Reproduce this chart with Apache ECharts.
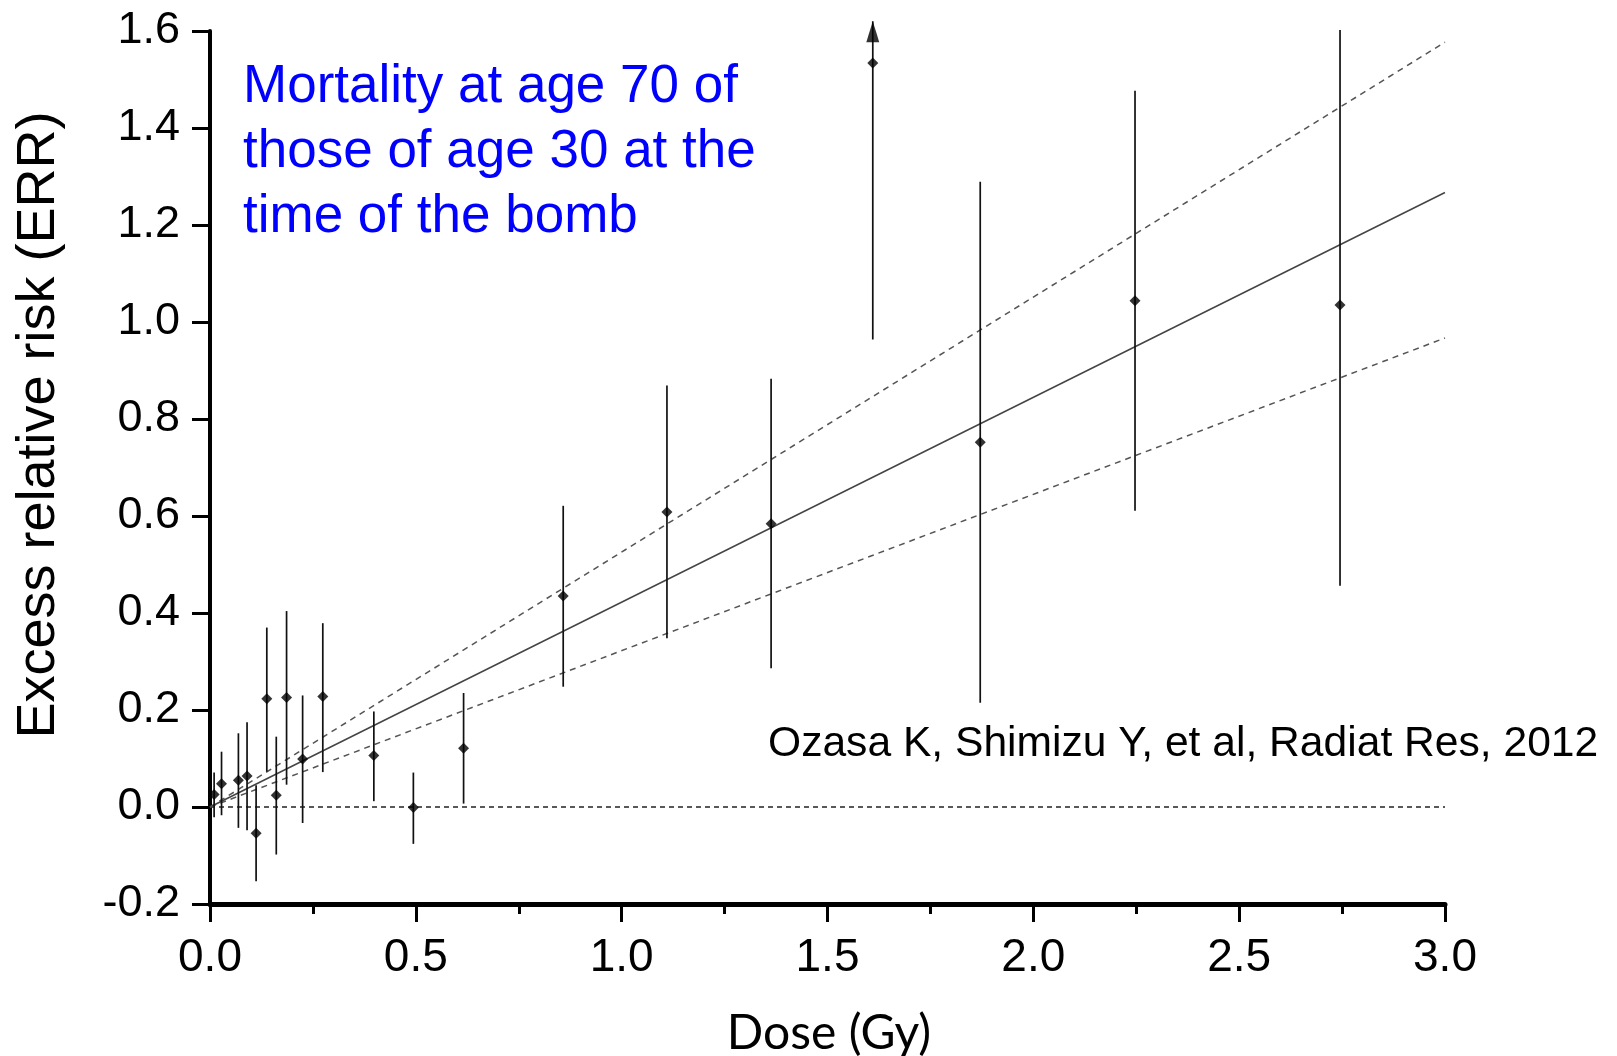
<!DOCTYPE html>
<html>
<head>
<meta charset="utf-8">
<script src="https://cdn.jsdelivr.net/npm/echarts@6/dist/echarts.min.js"></script>
<style>
html,body{margin:0;padding:0;background:#fff;}
#chart{width:1617px;height:1056px;}
</style>
</head>
<body>
<div id="chart"></div>
<script>
// ---- Data ----
const dose  = [0.010, 0.028, 0.069, 0.090, 0.112, 0.138, 0.161, 0.186, 0.225, 0.274, 0.398, 0.494, 0.616, 0.858, 1.110, 1.363, 1.610, 1.871, 2.247, 2.745];
const err   = [0.026, 0.048, 0.055, 0.064, -0.054, 0.223, 0.024, 0.226, 0.099, 0.228, 0.106, -0.001, 0.121, 0.435, 0.608, 0.584, 1.534, 0.752, 1.044, 1.035];
const lower = [-0.021, -0.017, -0.043, -0.048, -0.153, 0.073, -0.098, 0.046, -0.033, 0.072, 0.012, -0.076, 0.007, 0.248, 0.348, 0.286, 0.964, 0.215, 0.611, 0.456];
const upper = [0.071, 0.114, 0.152, 0.175, 0.045, 0.370, 0.145, 0.404, 0.230, 0.379, 0.197, 0.071, 0.235, 0.621, 0.869, 0.883, 1.620, 1.289, 1.477, 1.602];
const arrowIdx = [16];               // upper bound beyond the axis (drawn as arrow)
const fitDose  = [0, 3.0];
const fitMid   = [0, 1.267];
const fitUpper = [0, 1.577];
const fitLower = [0, 0.967];
const zeroDose = [0, 3.0];
const zeroErr  = [0, 0];
const xTicks = {min: 0, max: 3.0, step: 0.5};
const yTicks = {min: -0.2, max: 1.6, step: 0.2};
const title = ['Mortality at age 70 of', 'those of age 30 at the', 'time of the bomb'];
const citation = 'Ozasa K, Shimizu Y, et al, Radiat Res, 2012';
const xName = 'Dose (Gy)';
const yName = 'Excess relative risk (ERR)';

// ---- Build ----
const pts = dose.map((d, i) => [d, err[i]]);
const bars = dose.map((d, i) => [d, lower[i], upper[i]]);
const arrows = arrowIdx.map(i => [dose[i], upper[i]]);
const zip = (a, b) => a.map((v, i) => [v, b[i]]);

const chart = echarts.init(document.getElementById('chart'), null, {renderer: 'canvas'});
const FONT = '"Liberation Sans", Arial, sans-serif';

chart.setOption({
  animation: false,
  backgroundColor: '#fff',
  grid: {left: 210, right: 172, top: 31, bottom: 152, containLabel: false},
  xAxis: {
    type: 'value', min: xTicks.min, max: xTicks.max, interval: xTicks.step,
    axisLine: {show: true, onZero: false, lineStyle: {color: '#000', width: 5}},
    axisTick: {show: true, inside: false, length: 18, lineStyle: {color: '#000', width: 3}},
    minorTick: {show: true, splitNumber: 2, length: 10, lineStyle: {color: '#000', width: 3}},
    splitLine: {show: false},
    axisLabel: {fontFamily: FONT, fontSize: 46, color: '#000', margin: 31,
      formatter: v => v.toFixed(1)}
  },
  yAxis: {
    type: 'value', min: yTicks.min, max: yTicks.max, interval: yTicks.step,
    axisLine: {show: true, onZero: false, lineStyle: {color: '#000', width: 4}},
    axisTick: {show: true, inside: false, length: 18, lineStyle: {color: '#000', width: 3}},
    splitLine: {show: false},
    axisLabel: {fontFamily: FONT, fontSize: 45, color: '#000', margin: 30,
      formatter: v => v.toFixed(1)}
  },
  series: [
    {type: 'line', data: zip(zeroDose, zeroErr), symbol: 'none', silent: true,
     lineStyle: {color: '#222', width: 1.4, type: [5, 4]}, z: 1},
    {type: 'line', data: zip(fitDose, fitUpper), symbol: 'none', silent: true,
     lineStyle: {color: '#555', width: 1.5, type: [6, 5]}, z: 1},
    {type: 'line', data: zip(fitDose, fitLower), symbol: 'none', silent: true,
     lineStyle: {color: '#555', width: 1.5, type: [6, 5]}, z: 1},
    {type: 'line', data: zip(fitDose, fitMid), symbol: 'none', silent: true,
     lineStyle: {color: '#444', width: 1.5}, z: 1},
    {type: 'custom', data: bars, clip: false, z: 2,
     renderItem: (params, api) => {
       const a = api.coord([api.value(0), api.value(1)]);
       const b = api.coord([api.value(0), api.value(2)]);
       return {type: 'line', shape: {x1: a[0], y1: a[1], x2: b[0], y2: b[1]},
               style: {stroke: '#111', lineWidth: 1.7}};
     }},
    {type: 'scatter', data: pts, symbol: 'diamond', symbolSize: [11, 11], clip: false, z: 3,
     itemStyle: {color: '#000'}},
    {type: 'scatter', data: arrows, symbol: 'triangle', symbolSize: [13, 21],
     symbolOffset: [0, '50%'], clip: false, z: 3, itemStyle: {color: '#000'}}
  ],
  graphic: [
    {type: 'text', left: 243, top: 55, z: 10,
     style: {text: title.join('\n'), font: '53px ' + FONT, fill: '#0000ff', lineHeight: 65}},
    {type: 'text', left: 768, top: 723, z: 10,
     style: {text: citation, font: '42.6px ' + FONT, fill: '#000'}},
    {type: 'text', x: 39, y: 425, rotation: Math.PI / 2, z: 10,
     style: {text: yName, font: '54px ' + FONT, fill: '#000', align: 'center', verticalAlign: 'middle'}},
    {type: 'text', x: 829, y: 1034, z: 10,
     style: {text: xName, font: '48px Lato, "Open Sans", sans-serif', fill: '#000', align: 'center', verticalAlign: 'middle'}}
  ]
});
</script>
</body>
</html>
